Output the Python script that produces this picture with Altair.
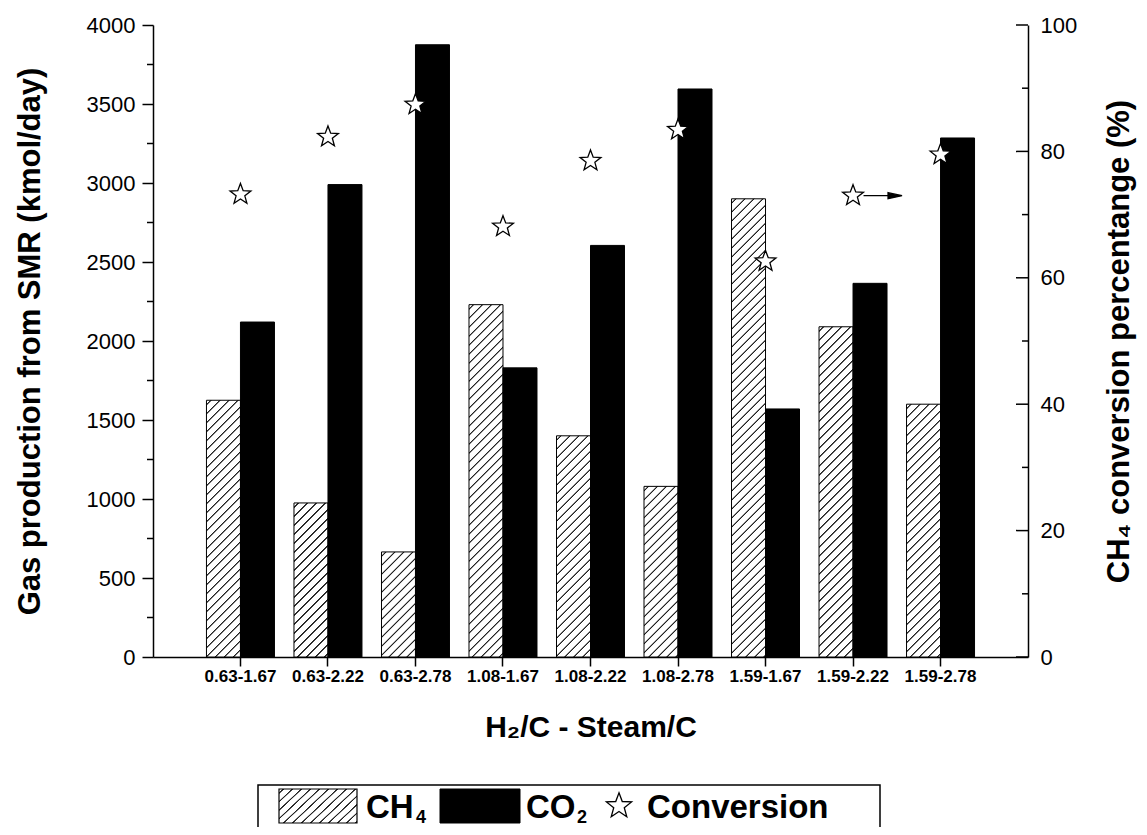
import math
import altair as alt

# ---------------- data ----------------
categories = ["0.63-1.67", "0.63-2.22", "0.63-2.78", "1.08-1.67", "1.08-2.22",
              "1.08-2.78", "1.59-1.67", "1.59-2.22", "1.59-2.78"]
ch4 = [1625, 975, 665, 2230, 1400, 1080, 2900, 2090, 1600]
co2 = [2120, 2990, 3875, 1830, 2605, 3595, 1570, 2365, 3285]
conversion = [73.2, 82.3, 87.4, 68.1, 78.5, 83.4, 62.6, 73.0, 79.5]
left_major = list(range(0, 4001, 500))
left_minor = list(range(250, 4000, 500))
right_major = [0, 20, 40, 60, 80, 100]
right_minor = [10, 30, 50, 70, 90]
arrow_category = "1.59-2.22"

# ---------------- style ----------------
W, H = 875, 632
FONT = "Liberation Sans, Arial, sans-serif"
BAR_W = 34.0
YMAX = 4000


def hatch(w, h, spacing=9.0, lw=1.0, soft=0.7, ink="#222222", paper="#ffffff"):
    """Linear gradient imitating '/' hatching for a w x h rectangle."""
    s = w + h
    c = s / (w * w + h * h)
    stops = [{"offset": 0, "color": paper}]
    k = 0
    last = 0.0
    while True:
        ctr = (k + 0.5) * spacing
        p = [ctr - lw / 2 - soft, ctr - lw / 2, ctr + lw / 2, ctr + lw / 2 + soft]
        if p[0] / s >= 1:
            break
        cols = [paper, ink, ink, paper]
        for q, col in zip(p, cols):
            off = round(min(max(q / s, last), 1.0), 6)
            last = off
            stops.append({"offset": off, "color": col})
        k += 1
    stops.append({"offset": 1, "color": paper})
    return {"gradient": "linear", "x1": 0, "y1": 0,
            "x2": round(w * c, 6), "y2": round(h * c, 6), "stops": stops}


pts = []
for i in range(10):
    ang = math.radians(-90 + 36 * i)
    r = 1.0 if i % 2 == 0 else 0.42
    pts.append(f"{r * math.cos(ang):.3f},{r * math.sin(ang):.3f}")
STAR = "M" + " L".join(pts) + " Z"
ARROW = "M1.05,0 L3.7,0 M3.5,-0.3 L4.9,0 L3.5,0.3 Z"

xscale = alt.Scale(domain=categories, paddingInner=0.223, paddingOuter=0.611)
xaxis = alt.Axis(title="H₂/C - Steam/C", labelAngle=0, labelFont=FONT,
                 labelFontWeight="bold", labelFontSize=17, labelColor="black",
                 titleFont=FONT, titleFontSize=30, titleFontWeight="bold",
                 titleColor="black", tickSize=9, tickWidth=1.5, tickColor="black",
                 domainColor="black", domainWidth=1.5, labelPadding=2,
                 titlePadding=28, bandPosition=0.5, grid=False)
off_scale = alt.Scale(domain=["CH4", "CO2"], paddingInner=0, paddingOuter=0)

yl_scale = alt.Scale(domain=[0, YMAX], nice=False)
yl_axis = alt.Axis(orient="left", title="Gas production from SMR  (kmol/day)",
                   values=left_major, format="d", tickSize=11, tickWidth=1.5,
                   tickColor="black", domainColor="black", domainWidth=1.5,
                   labelFont=FONT, labelFontSize=22, labelColor="black",
                   labelPadding=7, titleFont=FONT, titleFontSize=31,
                   titleFontWeight="bold", titleColor="black", titlePadding=40,
                   grid=False)

yr_scale = alt.Scale(domain=[0, 100], nice=False)
yr_axis = alt.Axis(orient="right", title="CH₄ conversion percentange (%)",
                   values=right_major, format="d", ticks=False, tickSize=0,
                   domainColor="black", domainWidth=1.5, labelFont=FONT,
                   labelFontSize=22, labelColor="black", labelPadding=12,
                   titleFont=FONT, titleFontSize=31, titleFontWeight="bold",
                   titleColor="black", titleAngle=270, titleBaseline="top",
                   titlePadding=28, grid=False)

# ---------------- left group: bars ----------------
left_layers = []
for cat, v in zip(categories, ch4):
    h = v / YMAX * H
    left_layers.append(
        alt.Chart(alt.Data(values=[{"cat": cat, "s": "CH4", "v": v}]))
        .mark_bar(fill=hatch(BAR_W, h), stroke="black", strokeWidth=1)
        .encode(x=alt.X("cat:N", scale=xscale, axis=xaxis),
                xOffset=alt.XOffset("s:N", scale=off_scale),
                y=alt.Y("v:Q", scale=yl_scale, axis=yl_axis))
    )

co2_rows = [{"cat": c, "s": "CO2", "v": v} for c, v in zip(categories, co2)]
left_layers.append(
    alt.Chart(alt.Data(values=co2_rows))
    .mark_bar(fill="black", stroke="black", strokeWidth=1)
    .encode(x=alt.X("cat:N", scale=xscale, axis=xaxis),
            xOffset=alt.XOffset("s:N", scale=off_scale),
            y=alt.Y("v:Q", scale=yl_scale, axis=yl_axis))
)

# minor ticks on left axis
left_layers.append(
    alt.Chart(alt.Data(values=[{"v": v} for v in left_minor]))
    .mark_rule(color="black", strokeWidth=1.5)
    .encode(y=alt.Y("v:Q", scale=yl_scale, axis=yl_axis),
            x=alt.value(0), x2=alt.value(-6))
)

# ---------------- legend (drawn below the plot) ----------------
one = alt.Data(values=[{"k": 1}])
LY = 760  # top of legend box, relative to plot origin
legend_layers = [
    alt.Chart(one).mark_rect(fill="white", fillOpacity=0, stroke="black", strokeWidth=1.5)
    .encode(x=alt.value(105), x2=alt.value(727), y=alt.value(LY), y2=alt.value(LY + 80)),
    alt.Chart(one).mark_rect(fill=hatch(78, 36), stroke="black", strokeWidth=1.2)
    .encode(x=alt.value(126), x2=alt.value(204), y=alt.value(LY + 4), y2=alt.value(LY + 38)),
    alt.Chart(one).mark_rect(fill="black", stroke="black")
    .encode(x=alt.value(287), x2=alt.value(367), y=alt.value(LY + 4), y2=alt.value(LY + 38)),
    alt.Chart(one).mark_text(text="CH", font=FONT, fontSize=33, fontWeight="bold",
                             align="left", baseline="alphabetic", color="black")
    .encode(x=alt.value(213), y=alt.value(LY + 33)),
    alt.Chart(one).mark_text(text="4", font=FONT, fontSize=18, fontWeight="bold",
                             align="left", baseline="alphabetic", color="black")
    .encode(x=alt.value(263), y=alt.value(LY + 38)),
    alt.Chart(one).mark_text(text="CO", font=FONT, fontSize=33, fontWeight="bold",
                             align="left", baseline="alphabetic", color="black")
    .encode(x=alt.value(373), y=alt.value(LY + 33)),
    alt.Chart(one).mark_text(text="2", font=FONT, fontSize=18, fontWeight="bold",
                             align="left", baseline="alphabetic", color="black")
    .encode(x=alt.value(424), y=alt.value(LY + 38)),
    alt.Chart(one).mark_point(shape=STAR, size=700, fill="white", stroke="black",
                              strokeWidth=1.3, opacity=1, filled=True)
    .encode(x=alt.value(466), y=alt.value(LY + 21)),
    alt.Chart(one).mark_text(text="Conversion", font=FONT, fontSize=33, fontWeight="bold",
                             align="left", baseline="alphabetic", color="black")
    .encode(x=alt.value(494), y=alt.value(LY + 33)),
]

left_group = alt.layer(*left_layers, *legend_layers)

# ---------------- right group: conversion ----------------
conv_rows = [{"cat": c, "conv": v} for c, v in zip(categories, conversion)]
stars = (
    alt.Chart(alt.Data(values=conv_rows))
    .mark_point(shape=STAR, size=480, fill="white", stroke="black",
                strokeWidth=1.3, opacity=1, filled=True)
    .encode(x=alt.X("cat:N", scale=xscale, axis=xaxis),
            y=alt.Y("conv:Q", scale=yr_scale, axis=yr_axis))
)
arrow = (
    alt.Chart(alt.Data(values=conv_rows))
    .transform_filter(alt.datum.cat == arrow_category)
    .mark_point(shape=ARROW, size=400, fill="black", stroke="black",
                strokeWidth=1.3, opacity=1, filled=True)
    .encode(x=alt.X("cat:N", scale=xscale, axis=xaxis),
            y=alt.Y("conv:Q", scale=yr_scale, axis=yr_axis))
)
r_major = (
    alt.Chart(alt.Data(values=[{"conv": v} for v in right_major]))
    .mark_rule(color="black", strokeWidth=1.5)
    .encode(y=alt.Y("conv:Q", scale=yr_scale, axis=yr_axis),
            x=alt.value(W), x2=alt.value(W - 12))
)
r_minor = (
    alt.Chart(alt.Data(values=[{"conv": v} for v in right_minor]))
    .mark_rule(color="black", strokeWidth=1.5)
    .encode(y=alt.Y("conv:Q", scale=yr_scale, axis=yr_axis),
            x=alt.value(W), x2=alt.value(W - 6))
)
right_group = alt.layer(r_major, r_minor, stars, arrow)

chart = (
    alt.layer(left_group, right_group)
    .resolve_scale(y="independent")
    .properties(width=W, height=H,
                autosize=alt.AutoSizeParams(type="none"),
                padding={"left": 145, "top": 17, "right": 111, "bottom": 170},
                background="white")
    .configure_view(stroke=None)
)

chart.save("out.html", embed_options={"renderer": "svg", "actions": False})
